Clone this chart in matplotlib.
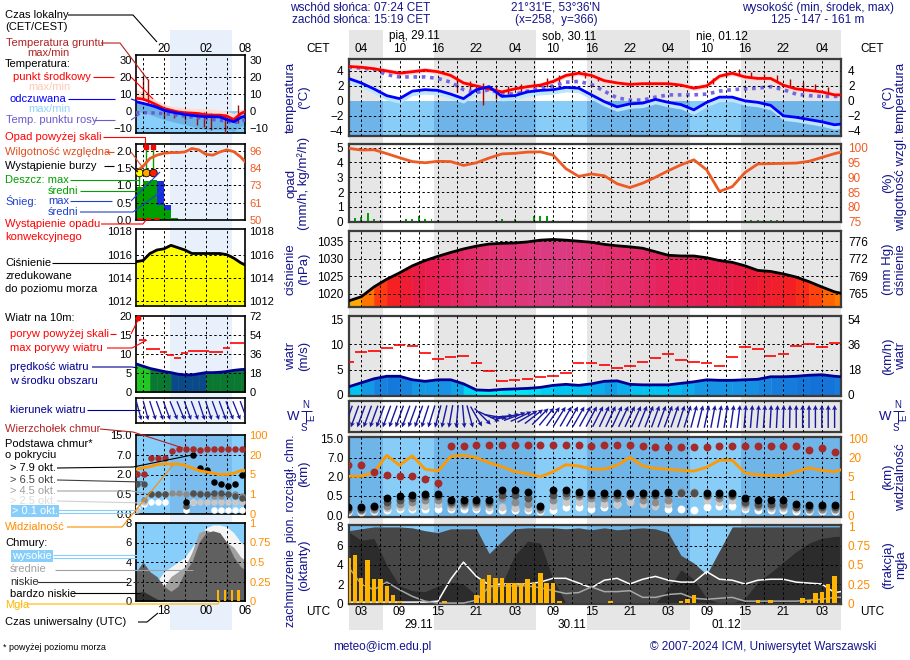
import numpy as np
import matplotlib
matplotlib.use("Agg")
import matplotlib.pyplot as plt
from matplotlib.colors import LinearSegmentedColormap, Normalize
from matplotlib.patches import Rectangle

plt.rcParams['font.family'] = ['Liberation Sans', 'DejaVu Sans']

W, H = 910, 660
NAVY = '#14148c'
nan = np.nan

##################################################
# main meteogram data, hours UTC counted from 29.11 00:00
hours = list(range(1, 78, 2)) + [78]
temp = [4.6, 4.5, 4.3, 4.0, 3.7, 3.9, 4.1, 3.9, 3.4, 2.4,
        2.0, 1.6, 1.2, 1.6, 1.9, 2.1, 2.6, 3.4, 3.7, 3.4,
        2.7, 2.4, 2.2, 2.3, 2.3, 2.3, 2.1, 1.7, 2.0, 3.3,
        3.7, 3.2, 3.0, 3.0, 2.1, 1.6, 1.4, 1.2, 0.8, 0.8]
feel = [3.0, 2.4, 1.6, 0.7, 0.3, 1.3, 1.5, 1.4, 0.9, 0.3,
        1.5, 1.9, 0.6, 0.7, 1.2, 1.4, 1.5, 1.8, 1.7, 0.8,
        -0.1, -0.8, -0.4, -0.3, 0.2, -0.2, -0.5, -1.2, -0.2, 0.5,
        0.5, 0.0, -0.2, -0.6, -2.0, -2.2, -2.5, -2.8, -3.2, -3.1]
dew = [4.5, 4.4, 4.2, 3.5, 3.2, 3.2, 3.2, 3.0, 2.5, 1.5,
       1.1, 1.5, 1.0, 0.9, 1.3, 1.7, 2.0, 2.5, 2.6, 2.2,
       1.3, 0.4, 0.1, 0.1, 0.5, 0.8, 0.8, 0.8, 0.9, 1.3,
       1.5, 1.6, 1.7, 1.9, 1.5, 0.9, 0.7, 0.6, 0.6, 0.6]
g_hours = [18, 20, 22, 24, 26, 28, 30, 32, 34, 36, 38, 40,
           58, 60, 62, 64, 66, 68, 70, 72, 74, 76]
g_min = [1.2, 0.8, -0.5, 0.3, 0.9, 1.2, 1.5, 1.8, 2.2, 2.8, 3.0, 2.6,
         2.3, 3.2, 3.4, 3.0, 2.9, 2.5, 1.9, 1.5, 1.3, 1.0]
g_max = [3.0, 2.6, 2.4, 2.1, 2.0, 2.3, 2.6, 3.0, 3.4, 3.8, 3.9, 3.2,
         3.0, 4.0, 4.2, 3.8, 3.6, 3.5, 2.9, 2.5, 2.2, 1.9]

rh = [99.8, 99.2, 99.3, 98.0, 96.6, 95.3, 94.9, 95.4, 95.3, 94.0,
      94.9, 96.5, 97.9, 98.1, 98.5, 98.6, 97.5, 92.9, 90.3, 91.1,
      90.5, 87.8, 86.5, 88.0, 90.0, 92.2, 94.2, 95.9, 92.5, 85.2,
      86.8, 91.6, 94.5, 94.6, 94.7, 94.8, 95.4, 96.7, 98.0, 98.5]
precip_hours = [1, 2, 3, 4, 5, 6, 9, 10, 11, 12, 13, 14, 15, 24, 25, 27,
                30, 31, 32, 33, 63, 64, 65, 66, 67, 68, 69, 70]
precip = [0.5, 0.25, 0.3, 0.6, 0.2, 0.05, 0.05, 0.15, 0.2, 0.35, 0.2, 0.2,
          0.1, 0.1, 0.2, 0.15, 0.4, 0.4, 0.35, 0.1, 0.08, 0.08, 0.1, 0.1,
          0.08, 0.08, 0.05, 0.05]

pressure = [1018.0, 1019.2, 1022.0, 1024.2, 1026.0, 1028.0, 1029.5, 1030.7, 1031.8, 1032.8,
            1033.6, 1034.2, 1034.4, 1034.5, 1034.8, 1035.3, 1035.5, 1035.3, 1035.0, 1034.7,
            1034.1, 1033.7, 1033.4, 1033.0, 1032.0, 1031.0, 1030.8, 1030.8, 1030.3, 1029.5,
            1029.0, 1028.0, 1026.7, 1026.4, 1025.7, 1024.8, 1023.5, 1022.0, 1020.6, 1020.2]
press_mmhg = ['765', '769', '772', '776']

wind = [1.6, 2.4, 3.2, 3.7, 3.7, 3.0, 2.7, 3.0, 3.0, 2.2,
        1.0, 0.9, 1.1, 1.2, 1.3, 1.5, 1.9, 2.1, 1.9, 2.2,
        2.7, 2.8, 2.1, 2.0, 2.0, 2.0, 2.3, 2.6, 3.0, 2.9,
        2.9, 3.0, 3.1, 3.6, 3.6, 3.7, 3.9, 4.0, 3.7, 3.6]
gust = [6.5, 8.4, 8.6, 9.2, 9.8, 9.6, 8.3, 7.2, 7.6, 7.7,
        6.4, 4.8, 2.7, 2.9, 3.2, 3.5, 3.7, 4.3, 6.3, 6.4,
        6.0, 5.3, 5.8, 6.5, 7.3, 8.0, 7.0, 6.5, 6.3, 5.8,
        7.5, 9.4, 9.0, 7.7, 8.0, 9.6, 10.0, 9.5, 10.2, nan]
# hourly direction the air moves to, degrees clockwise from north (hours 1..77)
dir_hours = list(range(1, 78))
wind_dir = [200, 200, 200, 200, 200, 200, 200, 200, 200, 200, 200, 200,
            198, 197, 195, 193, 190, 185, 175, 165, 150, 135, 115, 100,
            85, 78, 70, 65, 60, 52, 45, 40, 35, 32, 30, 30,
            30, 29, 28, 27, 25, 25, 25, 25, 25, 24, 22, 21,
            20, 20, 20, 19, 18, 17, 15, 14, 12, 11, 10, 9,
            8, 7, 5, 5, 5, 4, 3, 3, 2, 1, 0, 0,
            0, 0, 0, 0, 0]

vis = [5.4, 5.4, 8.6, 30, 14, 28, 11, 9.5, 25, 30,
       20, 16, 13, 9, 7.5, 5, 9, 14.5, 13.5, 11,
       11, 14, 21, 13.5, 11.6, 11, 10, 9.5, 12.5, 18,
       18, 8, 6.5, 6, 6, 9, 12, 10, 9, 10.5]
cloud_top = [5.2, 5.2, 3.2, 2.6, 2.3, 2.2, 1.8, 1.5, 12.0, 12.0,
             12.5, 12.5, 12.2, 12.5, 12.5, 12.5, 12.5, 12.5, 12.5, 12.0,
             12.5, 12.5, 12.5, 12.0, 11.5, 11.3, 11.3, 11.3, 11.6, 12.0,
             12.0, 12.0, 12.0, 12.0, 12.0, 12.0, 10.2, 11.0, 9.5, nan]
base_79 = [0.2, 0.2, 0.25, 0.45, 0.5, 0.55, 0.62, 0.62, 0.4, 0.4,
           0.4, 0.4, 1.0, 1.0, 0.8, 0.25, 0.95, 0.95, 0.8, 0.75,
           0.75, 0.75, 0.75, 0.75, 0.75, 0.8, nan, nan, 0.75, 0.75,
           0.75, 0.45, 0.4, 0.4, 0.4, 0.28, 0.26, 0.26, 0.26, nan]
base_65 = [0.15, 0.15, 0.2, 0.35, 0.4, 0.45, 0.5, 0.5, 0.35, 0.35,
           0.35, 0.35, 0.6, 0.6, 0.45, 0.2, 0.6, 0.7, 0.65, 0.6,
           0.55, 0.55, 0.6, 0.55, 0.6, 0.7, 0.7, 0.7, 0.6, 0.6,
           0.55, 0.35, 0.3, 0.3, 0.3, 0.22, 0.2, 0.2, 0.2, nan]
base_45 = [0.12, 0.12, 0.15, 0.25, 0.3, 0.35, 0.4, 0.4, 0.28, 0.3,
           0.3, 0.3, 0.45, 0.35, 0.3, 0.15, 0.4, 0.5, 0.5, 0.45,
           0.45, 0.45, 0.5, 0.4, 0.35, 0.4, 0.8, 0.8, 0.5, 0.45,
           0.5, 0.3, 0.25, 0.25, 0.25, 0.2, 0.17, 0.17, 0.17, nan]
base_25 = [0.1, 0.1, 0.12, 0.18, 0.2, 0.22, 0.25, 0.3, 0.2, 0.25,
           0.2, 0.2, 0.2, 0.18, 0.18, 0.12, 0.25, 0.35, 0.35, 0.3,
           0.3, 0.3, 0.35, 0.3, 0.25, 0.3, 0.65, 0.65, 0.4, 0.35,
           0.4, 0.22, 0.2, 0.18, 0.18, 0.15, 0.14, 0.14, 0.14, nan]
base_01 = [0.08, 0.08, 0.1, 0.12, 0.15, 0.15, 0.15, 0.15, 0.15, 0.15,
           0.15, 0.12, 0.12, 0.12, 0.12, 0.1, 0.12, 0.2, 0.2, 0.15,
           0.2, 0.3, 0.45, 0.5, 0.35, 0.15, 0.15, 0.12, 0.2, 0.25,
           0.25, 0.15, 0.12, 0.12, 0.12, 0.1, 0.1, 0.1, 0.1, nan]

cl_high = [0.1, 0.1, 0.1, 0.1, 0.1, 0.1, 0.1, 0.2, 2.5, 4.3,
           2.8, 1.9, 2.0, 2.0, 2.0, 2.2, 2.6, 2.6, 2.1, 1.6,
           2.4, 2.6, 2.0, 2.5, 2.8, 2.4, 2.2, 2.2, 3.3, 2.5,
           2.4, 2.0, 2.4, 2.5, 2.5, 2.2, 2.1, 2.0, 1.1, 1.2]
cl_mid = [3.8, 2.0, 1.4, 2.2, 1.4, 0.7, 0.2, 0.0, 0.0, 0.0,
          0.3, 1.7, 1.8, 1.8, 1.8, 1.6, 1.3, 1.0, 1.1, 1.7,
          1.2, 1.2, 1.3, 0.6, 0.6, 0.9, 1.0, 0.5, 0.4, 0.5,
          0.6, 0.2, 0.2, 0.2, 0.2, 0.2, 0.3, 0.4, 0.6, 0.6]
cl_low = [7.6, 7.8, 8, 8, 8, 7.9, 7.6, 7.4, 7.8, 7.8,
          7.8, 5.2, 6.5, 7.8, 7.9, 7.9, 7.9, 7.8, 7.9, 7.7,
          7.9, 7.7, 7.8, 7.9, 7.8, 7.4, 5.0, 4.2, 3.0, 5.5,
          8, 8, 8, 8, 8, 8, 8, 8, 8, 8]
cl_vlow = [7.5, 6.6, 6.8, 4.0, 1.8, 1.3, 1.2, 1.8, 2.2, 2.0,
           0.8, 0.0, 2.0, 5.0, 6.5, 6.3, 2.5, 0.0, 0, 0,
           0, 0, 0, 0, 0, 1.5, 3.5, 2.5, 0.5, 0,
           0, 0.5, 2.2, 3.2, 4.3, 5.4, 6.3, 6.8, 7.0, 7.0]
fog_hours = [1, 2, 3, 4, 5, 6, 7, 8, 9, 16, 21, 22, 23, 24, 25, 26, 27, 28,
             29, 30, 31, 32, 33, 34, 42, 53, 54, 55, 65, 67, 72, 73, 74, 75, 76, 77]
fog = [0.59, 0.63, 0.33, 0.57, 0.32, 0.31, 0.23, 0.10, 0.03, 0.03, 0.10, 0.31,
       0.37, 0.33, 0.33, 0.26, 0.26, 0.26, 0.32, 0.26, 0.40, 0.26, 0.26, 0.03,
       0.03, 0.03, 0.05, 0.10, 0.04, 0.04, 0.07, 0.04, 0.13, 0.15, 0.25, 0.35]

sunrise_utc, sunset_utc = 6.4, 14.32
day_names = ['pią, 29.11', 'sob, 30.11', 'nie, 01.12']
day_dates = ['29.11', '30.11', '01.12']

##################################################
# legend (sample) meteogram, local hours
mini_hours = list(range(16, 33))
mini_temp = [7.5, 7.0, 5.5, 3.5, 1.5, 0.5, -0.5, -1.0, -1.2, -1.5, -2.2, -2.4, -2.4, -3.0, -5.0, -1.5, 0.5]
mini_tmax = [13, 11, 9, 6, 4, 3, 2.5, 2, 1.5, 1.5, 1.2, 1, 0.5, 0, -1.5, 1, 1.5]
mini_feel = [5.5, 4.5, 3.5, 2.2, 0.5, -0.5, -1.3, -2.0, -2.5, -3.0, -3.3, -3.3, -3.5, -5.0, -6.3, -3.8, -2.5]
mini_fmin = [0, -1, -2, -3.5, -5, -6, -7, -8, -9, -10, -11, -11, -11, -11, -12, -9, -8]
mini_dew = [-1.0, -1.0, -1.0, -1.2, -1.5, -2, -2.5, -3, -3.5, -4, -4.5, -5, -5.5, -6.0, -7.0, -6, -5]
mini_g_hours = [17, 17.7, 20, 21.5, 23, 24.7, 25.8, 26.8, 28.7, 30.6]
mini_g_max = [21, 19, 0.6, 0, -0.5, -1.4, -0.5, -1.4, -2, 3.5]
mini_g_min = [6.5, 4.5, -4.3, -4, -5, -8.2, -9.2, -11.2, -13, -7.3]
mini_rh = [82.2, 85.7, 91, 93.2, 94.4, 94.9, 94.9, 95.3, 97.6, 96.7, 93.7, 93.2, 95.3, 96.7, 95.5, 91.9, 86.8]
mini_rain_hours = [16, 17, 18, 19, 20, 21]
mini_rain = [0.95, 1.12, 1.16, 0.43, 0.3, 0.05]
mini_snow = [0, 0, 0, 0.7, 0.13, 0]
mini_press = [1015.4, 1015.5, 1016.1, 1016.4, 1016.5, 1016.8, 1016.6, 1016.4, 1016.1,
              1016.1, 1016.1, 1016.1, 1016.1, 1016.0, 1015.7, 1015.3, 1015.0]
mini_wind = [7.4, 6.8, 6.2, 5.8, 5.4, 5.1, 4.7, 4.5, 4.5, 4.8, 5.1, 5.1, 5.2, 5.4, 5.7, 5.9, 6.0]
mini_gust_hours = list(range(17, 32))
mini_gust = [13.6, 11.3, 11.3, 10.6, 9.7, 9.0, 10.2, 10.8, 10.8, 10.7, 10.6, 10.6, 11.6, 12.9, 12.9]
mini_dir = [165, 165, 162, 160, 160, 158, 158, 160, 160, 162, 162, 160, 160, 158, 158, 160]
mini_top = [2.1, 2.1, 6.2, 6.2, 6.2, 8.5, 9.3, 9.3, 9.3, 9.0, 9.3, 9.3, 9.3, 9.3, 9.3, 9.3]
mini_b79 = [nan, nan, nan, nan, nan, nan, nan, 0.3, 7.0, 3.6, 3.2, 1.4, 1.3, 1.1, 1.3, 2.0]
mini_b65 = [1.3, 1.3, 0.5, 0.5, 0.5, nan, nan, 0.2, 0.6, 0.55, 0.5, 0.6, 0.6, 0.5, 0.45, 0.4]
mini_b45 = [nan, 0.35, 0.55, 0.5, 0.55, 0.6, 0.6, 0.5, 0.5, 0.6, 0.55, 0.45, 0.45, 0.55, 0.5, 0.45]
mini_b25 = [0.1, 0.3, nan, nan, 0.6, 0.6, 0.6, nan, 0.3, 0.3, 0.3, 0.3, 0.3, 0.3, 0.3, 0.3]
mini_b01 = [0.15, 0.25, 0.3, 0.3, 0.3, nan, nan, 0.1, 0.3, nan, nan, 0.1, 0.1, 0.1, 0.1, 0.1]
mini_vis = [9, 10, 11, 12.5, 13, 13, 13, 12, 10, 8, 7, 6, 5, 5, 6, 8, 8]
mini_high = [0, 0.5, 1.0, 2.0, 3.0, 3.5, 4.0, 4.5, 5.5, 6.5, 7.5, 7.8, 7.8, 7.6, 7.0, 6.0, 5.5]
mini_mid = [2.0, 2.5, 1.5, 1.0, 1.5, 2.5, 3.0, 3.5, 5.0, 7.0, 7.3, 7.0, 6.5, 6.0, 5.5, 4.5, 4.0]
mini_low = [3.0, 4.0, 3.0, 2.5, 1.5, 1.0, 1.5, 3.0, 4.0, 6.0, 7.0, 7.2, 7.0, 6.0, 4.5, 3.5, 3.0]
mini_vlow = [0.8, 1.0, 0.6, 0.2, 0, 0, 0, 0, 0, 0, 0, 0, 0, 0, 0, 0, 0]
mini_fog_hours = [27.7, 28.7, 29.7, 30.7]
mini_fog = [0.14, 0.14, 0.14, 0.14]

##################################################
fig = plt.figure(figsize=(W / 100, H / 100), dpi=100)


def px_axes(x0, y0, x1, y1):
    return fig.add_axes([x0 / W, 1 - y1 / H, (x1 - x0) / W, (y1 - y0) / H])


XL = (1.1, 78.0)
MX0, MX1 = 349, 841
ML = (16.0, 31.6)
LX0, LX1 = 136, 245


def hx(h):
    return MX0 + (h - XL[0]) / (XL[1] - XL[0]) * (MX1 - MX0)


def mx(h):
    return LX0 + (h - ML[0]) / (ML[1] - ML[0]) * (LX1 - LX0)


day_spans = [(sunrise_utc + 24 * d, sunset_utc + 24 * d) for d in range(3)]
night_spans = [(-1, day_spans[0][0])] + \
    [(day_spans[i][1], day_spans[i + 1][0]) for i in range(2)] + [(day_spans[2][1], 80)]

KM_T = [0, 0.5, 2, 7, 15]
VIS_T = [0, 1, 5, 20, 100]


def km_idx(v):
    return np.interp(np.array(v, float), KM_T, range(5))


def vis_idx(v):
    return np.interp(np.array(v, float), VIS_T, range(5))


DASH = (0, (2.5, 2.5))


def hgrid(ax, ys):
    for y in ys:
        ax.axhline(y, color='k', lw=0.7, ls=DASH, zorder=4)


def shade(ax, lo, hi, c_night, c_day):
    for a, b in night_spans:
        ax.fill_between([a, b], lo, hi, color=c_night, lw=0, zorder=0)
    for a, b in day_spans:
        ax.fill_between([a, b], lo, hi, color=c_day, lw=0, zorder=0)


def panel(y0, y1, ylim):
    ax = px_axes(MX0, y0, MX1, y1)
    ax.set_xlim(XL)
    ax.set_ylim(ylim)
    ax.patch.set_visible(False)
    ax.set_xticks([])
    for s in ax.spines.values():
        s.set_color('#3c3c3c')
        s.set_linewidth(1.6)
    ax.tick_params(axis='y', length=0, pad=4, labelsize=8.5)
    for g in range(3, 78, 3):
        ax.axvline(g, color='k', lw=0.7, ls=DASH, zorder=4)
    return ax


def mini(y0, y1, ylim):
    ax = px_axes(LX0, y0, LX1, y1)
    ax.set_xlim(ML)
    ax.set_ylim(ylim)
    ax.patch.set_visible(False)
    ax.set_xticks([])
    for s in ax.spines.values():
        s.set_color('k')
        s.set_linewidth(1.2)
    ax.tick_params(axis='y', length=0, pad=3, labelsize=8)
    for g in (17, 20, 23, 26, 29):
        ax.axvline(g, color='k', lw=0.7, ls=DASH, zorder=4)
    return ax


def right_axis(ax, ylim, ticks, labels=None, color='k', size=8.5, pad=5):
    r = ax.twinx()
    r.set_ylim(ylim)
    r.set_yticks(ticks)
    if labels is not None:
        r.set_yticklabels(labels)
    r.tick_params(axis='y', length=0, pad=pad, labelsize=size, colors=color)
    for s in r.spines.values():
        s.set_visible(False)
    return r


def color_fill(ax, x, y, base, cmap, norm):
    for i in range(len(x) - 1):
        c = cmap(norm((y[i] + y[i + 1]) / 2))
        ax.fill_between(x[i:i + 2], base, y[i:i + 2], color=c, ec=c, lw=0.4, zorder=1)


hrs = np.array(hours, float)

##################################################
# backgrounds
back = px_axes(0, 0, W, H)
back.set_xlim(0, W)
back.set_ylim(H, 0)
back.axis('off')
back.set_zorder(-10)
back.add_patch(Rectangle((170, 30), 62, 600, color='#e8f0fb', lw=0))

bg = px_axes(MX0, 30, MX1, 630)
bg.set_xlim(XL)
bg.axis('off')
bg.set_zorder(-5)
for a, b in night_spans:
    bg.axvspan(a, b, color='#e6e6e6', lw=0)

##################################################
# temperature
ax_t = panel(59, 136, (-4.7, 5.6))
shade(ax_t, -4.7, 0, '#6eb4e8', '#88cdf8')
ax_t.fill_between(hrs, np.array(temp) - 0.3, np.array(temp) + 0.35, color='#ffd6cf', lw=0, zorder=2)
ax_t.fill_between(hrs, np.array(feel) - 0.6, np.array(feel) + 0.15, color='#bde5fb', lw=0, zorder=2)
ax_t.vlines(g_hours, g_min, g_max, color='#b00000', lw=1, zorder=3)
ax_t.plot(hrs, dew, color='#7466e6', lw=2.6, ls=(0, (1, 1.3)), zorder=3)
ax_t.plot(hrs, temp, color='#ff0000', lw=2, zorder=5)
ax_t.plot(hrs, feel, color='#0000ff', lw=2, zorder=5)
ax_t.set_yticks([-4, -2, 0, 2, 4])
hgrid(ax_t, [-4, -2, 2, 4])
right_axis(ax_t, (-4.7, 5.6), [-4, -2, 0, 2, 4])

# precipitation / humidity
ax_p = panel(144, 222, (-0.03, 5.25))
ax_p.bar(precip_hours, precip, width=0.3, color='#00a000', zorder=2)
ax_p.set_yticks(range(6))
hgrid(ax_p, [1, 2, 3, 4, 5])
r = right_axis(ax_p, (75 - 0.15, 75 + 26.25), [75, 80, 85, 90, 95, 100], color='#f05a22')
r.plot(hrs, rh, color='#ee5a24', lw=2, zorder=5)

# pressure
pcmap = LinearSegmentedColormap.from_list('p', [
    (0.0, '#ffd000'), (0.105, '#ffa000'), (0.21, '#ff6a00'), (0.316, '#ff3c10'),
    (0.42, '#f52020'), (0.58, '#ea1a40'), (0.737, '#e8205a'), (0.895, '#e23070'),
    (1.0, '#d8408a')])
ax_pr = panel(231, 307, (1016.3, 1037.9))
color_fill(ax_pr, hrs, pressure, 1016.3, pcmap, Normalize(1017, 1036))
ax_pr.plot(hrs, pressure, color='k', lw=2, zorder=5)
ax_pr.set_yticks([1020, 1025, 1030, 1035])
hgrid(ax_pr, [1020, 1025, 1030, 1035])
right_axis(ax_pr, (1016.3, 1037.9), [1020, 1025, 1030, 1035], press_mmhg)

# wind
wcmap = LinearSegmentedColormap.from_list('w', [
    (0.0, '#00ffff'), (0.2, '#00f0fa'), (0.4, '#00c4f2'), (0.6, '#1890e4'),
    (0.8, '#1470d8'), (1.0, '#1060d0')])
ax_w = panel(316, 396, (-0.2, 15.6))
color_fill(ax_w, hrs, wind, 0, wcmap, Normalize(0, 5))
ax_w.plot(hrs, wind, color='#000090', lw=2, zorder=5)
ax_w.hlines(gust, hrs - 0.9, hrs + 0.9, color='#ff0000', lw=1.2, zorder=5)
ax_w.set_yticks([0, 5, 10, 15])
hgrid(ax_w, [5, 10])
right_axis(ax_w, (-0.72, 56.16), [0, 18, 36, 54])

# wind direction
ax_d = panel(401, 432, (0, 1))
ax_d.set_yticks([])
rad = np.deg2rad(wind_dir)
ax_d.quiver(dir_hours, np.full(len(rad), 0.5), np.sin(rad), np.cos(rad),
            angles='uv', pivot='middle', scale_units='inches', scale=1 / 0.23,
            units='inches', width=0.014, headwidth=3.6, headlength=3.6,
            headaxislength=3.1, color='#1818a0', zorder=5)

# cloud base / top, visibility
CLIM = (-0.1, 4.08)
ax_c = panel(437, 517, CLIM)
shade(ax_c, CLIM[0], CLIM[1], '#70b5e8', '#88cdf8')
for vals, col in [(base_01, 'white'), (base_25, '#c8c8c8'), (base_45, '#8c8c8c'),
                  (base_65, '#505050'), (base_79, 'black')]:
    ax_c.scatter(hrs, km_idx(vals), s=32, color=col, lw=0, zorder=5)
ax_c.plot(hrs, vis_idx(vis), color='#ff9900', lw=2, zorder=6)
ax_c.scatter(hrs, km_idx(cloud_top), s=32, color='#a52a2a', lw=0, zorder=7)
ax_c.set_yticks(range(5))
ax_c.set_yticklabels(['0.0', '0.5', '2.0', '7.0', '15.0'])
hgrid(ax_c, [1, 2, 3])
right_axis(ax_c, CLIM, range(5), ['0', '1', '5', '20', '100'], color='#ff8c00')

# cloud cover, fog
OLIM = (-0.1, 8.2)
ax_cc = panel(525, 604, OLIM)
shade(ax_cc, OLIM[0], OLIM[1], '#70b5e8', '#88cdf8')
ax_cc.fill_between(hrs, -0.1, cl_high, color='white', lw=0, zorder=1)
ax_cc.fill_between(hrs, -0.1, cl_mid, color='#a8a8a8', lw=0, zorder=1.1)
ax_cc.fill_between(hrs, -0.1, cl_low, color='#474747', lw=0, zorder=1.2)
ax_cc.fill_between(hrs, -0.1, cl_vlow, color='#2c2c2c', lw=0, zorder=1.3)
ax_cc.plot(hrs, cl_high, color='white', lw=1.1, zorder=3)
ax_cc.plot(hrs, cl_mid, color='#a8a8a8', lw=1.1, zorder=3)
ax_cc.set_yticks([0, 2, 4, 6, 8])
hgrid(ax_cc, [2, 4, 6])
r = right_axis(ax_cc, (OLIM[0] / 8, OLIM[1] / 8), [0, 0.25, 0.5, 0.75, 1],
               ['0', '0.25', '0.5', '0.75', '1'], color='#ff8c00')
r.bar(fog_hours, fog, width=0.7, color='#ffb400', zorder=3)

##################################################
# legend sample panels
mh = np.array(mini_hours, float)
ax_mt = mini(55, 133, (-12.9, 32.9))
ax_mt.fill_between(ML, -12.9, 0, color='#87cefa', lw=0, zorder=0)
ax_mt.fill_between(mh, mini_temp, mini_tmax, color='#ffdcd2', lw=0, zorder=1)
ax_mt.fill_between(mh, mini_fmin, mini_feel, color='#6cb2e4', lw=0, zorder=1)
ax_mt.vlines(mini_g_hours, mini_g_min, mini_g_max, color='#a01010', lw=1, zorder=3)
ax_mt.plot(mh, mini_dew, color='#6a5acd', lw=2.4, ls=(0, (1, 1.3)), zorder=3)
ax_mt.plot(mh, mini_temp, color='#ff0000', lw=2, zorder=5)
ax_mt.plot(mh, mini_feel, color='#0000ff', lw=2, zorder=5)
ax_mt.set_yticks([-10, 0, 10, 20, 30])
hgrid(ax_mt, [-10, 10, 20])
right_axis(ax_mt, (-12.9, 32.9), [-10, 0, 10, 20, 30], size=8, pad=3)

ax_mh = mini(144, 220, (0, 2.2))
ax_mh.bar(mini_rain_hours, mini_rain, width=1, align='edge', color='#00a000', zorder=2)
ax_mh.bar(mini_rain_hours, mini_snow, width=1, align='edge', bottom=mini_rain,
          color='#1a2ee0', zorder=2)
ax_mh.vlines([17.5, 18.5], 1.36, 2.1, color='#00a000', lw=1, zorder=5)
ax_mh.vlines([16.5], 0.95, 1.36, color='#00a000', lw=1, zorder=5)
ax_mh.scatter([17.5, 18.5], [2.12, 2.12], marker='s', s=10, color='#ff0000', zorder=6)
ax_mh.scatter([16.5, 17.5, 18.5], [1.36] * 3, c=['#ffff00', '#ffa500', '#ff2000'],
              s=30, edgecolors='k', linewidths=0.6, zorder=6)
ax_mh.hlines(0.03, 16.1, 19.4, color='#ff0000', lw=2, ls=(0, (2, 1)), zorder=6)
ax_mh.plot(mh, (np.array(mini_rh) - 50) / 23, color='#ee5a24', lw=2, zorder=5)
ax_mh.set_yticks([0, 0.5, 1, 1.5, 2])
ax_mh.set_yticklabels(['0.0', '0.5', '1.0', '1.5', '2.0'])
hgrid(ax_mh, [0.5, 1, 1.5, 2])
right_axis(ax_mh, (0, 2.2), [0, 0.5, 1, 1.5, 2], ['50', '61', '73', '84', '96'],
           color='#f05a22', size=8, pad=3)

ax_mp = mini(229, 306, (1011.6, 1018.2))
ax_mp.fill_between(mh, 1011.6, mini_press, color='#ffff00', lw=0, zorder=1)
ax_mp.plot(mh, mini_press, color='k', lw=2, zorder=5)
ax_mp.set_yticks([1012, 1014, 1016, 1018])
hgrid(ax_mp, [1012, 1014, 1016])
right_axis(ax_mp, (1011.6, 1018.2), [1012, 1014, 1016, 1018], size=8, pad=3)

ax_mw = mini(316, 392, (0, 20))
for i in range(len(mh) - 1):
    s = (mini_wind[i] + mini_wind[i + 1]) / 2
    c = '#22c822' if s >= 6.5 else ('#0a7830' if s >= 5 else '#0a4a88')
    ax_mw.fill_between(mh[i:i + 2], 0, mini_wind[i:i + 2], color=c, ec=c, lw=0.4, zorder=1)
ax_mw.plot(mh, mini_wind, color='#000090', lw=2, zorder=5)
gh = np.array(mini_gust_hours, float)
ax_mw.hlines(mini_gust, gh - 0.5, gh + 0.5, color='#ff0000', lw=1.2, zorder=5)
ax_mw.scatter([16.3], [19.6], s=10, color='#ff0000', zorder=6, clip_on=False)
ax_mw.set_yticks([0, 5, 10, 15, 20])
hgrid(ax_mw, [5, 10, 15])
right_axis(ax_mw, (0, 20), [0, 5, 10, 15, 20], ['0', '18', '36', '54', '72'], size=8, pad=3)

ax_md = mini(398, 423, (0, 1))
ax_md.set_yticks([])
mrad = np.deg2rad(mini_dir)
ax_md.quiver(mh[:-1] + 0.4, np.full(len(mrad), 0.5), np.sin(mrad), np.cos(mrad),
             angles='uv', pivot='middle', scale_units='inches', scale=1 / 0.2,
             units='inches', width=0.013, headwidth=3.6, headlength=3.6,
             headaxislength=3.1, color='#1818a0', zorder=5)

ax_mc = mini(435, 514, (0, 4))
ax_mc.fill_between(ML, 0, 4, color='#87cefa', lw=0, zorder=0)
ax_mc.fill_between([20.86, 29.7], 0, 4, color='#7abcee', lw=0, zorder=0)
mch = mh[:-1] + 0.2
for vals, col in [(mini_b01, 'white'), (mini_b25, '#c8c8c8'), (mini_b45, '#8c8c8c'),
                  (mini_b65, '#505050'), (mini_b79, 'black')]:
    ax_mc.scatter(mch, km_idx(vals), s=22, color=col, lw=0, zorder=5)
ax_mc.plot(mh, vis_idx(mini_vis), color='#ff9900', lw=2, zorder=6)
ax_mc.scatter(mch, km_idx(mini_top), s=22, color='#a52a2a', lw=0, zorder=7)
ax_mc.set_yticks(range(5))
ax_mc.set_yticklabels(['0.0', '0.5', '2.0', '7.0', '15.0'])
hgrid(ax_mc, [1, 2, 3])
right_axis(ax_mc, (0, 4), range(5), ['0', '1', '5', '20', '100'], color='#ff8c00', size=8, pad=3)

ax_mcc = mini(523, 601, (0, 8))
ax_mcc.fill_between(ML, 0, 8, color='#87cefa', lw=0, zorder=0)
ax_mcc.fill_between(mh, 0, mini_high, color='#f4f4f4', lw=0, zorder=1)
ax_mcc.fill_between(mh, 0, mini_mid, color='#a0a0a0', lw=0, zorder=1.1)
ax_mcc.fill_between(mh, 0, mini_low, color='#606060', lw=0, zorder=1.2)
ax_mcc.fill_between(mh, 0, mini_vlow, color='#303030', lw=0, zorder=1.3)
ax_mcc.set_yticks([0, 2, 4, 6, 8])
hgrid(ax_mcc, [2, 4, 6])
r = right_axis(ax_mcc, (0, 1), [0, 0.25, 0.5, 0.75, 1], ['0', '0.25', '0.5', '0.75', '1'],
               color='#ff8c00', size=8, pad=3)
r.bar(mini_fog_hours, mini_fog, width=0.35, color='#ffb400', zorder=3)

##################################################
# overlay: texts and leader lines in pixel coordinates
ov = px_axes(0, 0, W, H)
ov.set_xlim(0, W)
ov.set_ylim(H, 0)
ov.axis('off')
ov.set_zorder(10)
ov.patch.set_visible(False)


def t(x, y, s, c='k', fs=8, ha='left', **kw):
    ov.text(x, y, s, color=c, fontsize=fs, ha=ha, va='center', **kw)


def ln(pts, c, lw=0.8):
    xs, ys = zip(*pts)
    ov.plot(xs, ys, color=c, lw=lw, solid_capstyle='butt')


# header
t(290, 8, 'wschód słońca: 07:24 CET', NAVY, 8.5)
t(292, 20, 'zachód słońca: 15:19 CET', NAVY, 8.5)
t(556, 8, "21°31'E, 53°36'N", NAVY, 8.5, 'center')
t(556, 20, '(x=258,  y=366)', NAVY, 8.5, 'center')
t(818, 8, 'wysokość (min, środek, max)', NAVY, 8.5, 'center')
t(818, 20, '125 - 147 - 161 m', NAVY, 8.5, 'center')

for k, (a, b) in enumerate(day_spans):
    t(hx(a) + 6, 36.5, day_names[k], 'k', 8.5)
    t(hx(a - sunrise_utc + 12), 625, day_dates[k], 'k', 8.5, 'center')
for g in range(3, 76, 6):
    t(hx(g), 49, '%02d' % ((g + 1) % 24), 'k', 8.5, 'center')
    t(hx(g), 612, '%02d' % (g % 24), 'k', 8.5, 'center')
t(318, 49, 'CET', 'k', 8.5, 'center')
t(872, 49, 'CET', 'k', 8.5, 'center')
t(318, 612, 'UTC', 'k', 8.5, 'center')
t(872, 612, 'UTC', 'k', 8.5, 'center')

# side labels
left_labels = [('temperatura', '(°C)', 97), ('opad', '(mm/h, kg/m²/h)', 183),
               ('ciśnienie', '(hPa)', 269), ('wiatr', '(m/s)', 356)]
left_units = [('(km)', 474), ('(oktanty)', 565)]
right_labels = [('(°C)', 'temperatura', 97), ('(%)', 'wilgotność wzgl.', 183),
                ('(mm Hg)', 'ciśnienie', 269), ('(km/h)', 'wiatr', 356),
                ('(km)', 'widzialność', 477), ('(frakcja)', 'mgła', 565)]
for outer, inner, y in left_labels:
    t(291, y, outer, NAVY, 9.5, 'center', rotation=90)
    t(304, y, inner, NAVY, 9.5, 'center', rotation=90)
t(291, 531, 'zachmurzenie  pion. rozciągł. chm.', NAVY, 9, 'center', rotation=90)
for inner, y in left_units:
    t(304, y, inner, NAVY, 9.5, 'center', rotation=90)
for inner, outer, y in right_labels:
    t(888, y, inner, NAVY, 9.5, 'center', rotation=90)
    t(901, y, outer, NAVY, 9.5, 'center', rotation=90)
# compass glyph beside the wind direction panel
for cx in (298, 890):
    t(cx - 5, 417, 'W', NAVY, 9.5, 'center')
    t(cx + 8, 405, 'N', NAVY, 7, 'center')
    t(cx + 6, 428, 'S', NAVY, 7, 'center')
    t(cx + 13, 418, 'E', NAVY, 7, 'center', rotation=90)
    ln([(cx + 3, 411), (cx + 14, 411)], NAVY, 0.7)
    ln([(cx + 8, 411), (cx + 8, 423)], NAVY, 0.7)

# legend column
t(mx(20), 49, '20', 'k', 8.5, 'center')
t(mx(26), 49, '02', 'k', 8.5, 'center')
t(mx(31.6), 49, '08', 'k', 8.5, 'center')
t(mx(20), 611, '18', 'k', 8.5, 'center')
t(mx(26), 611, '00', 'k', 8.5, 'center')
t(mx(31.6), 611, '06', 'k', 8.5, 'center')

lb = dict(facecolor='#87cefa', edgecolor='none', pad=0.6)
legend_texts = [
    (5, 15, 'Czas lokalny', 'k'), (5, 27, '(CET/CEST)', 'k'),
    (6, 43, 'Temperatura gruntu', '#b22222'), (27, 53, 'max/min', '#b22222'),
    (5, 64, 'Temperatura:', 'k'), (13, 77, 'punkt środkowy', '#ff0000'),
    (28, 87, 'max/min', '#ffc8b4'), (10, 99, 'odczuwana', '#0000ff'),
    (28, 109, 'max/min', '#8fd3f5'), (6, 120, 'Temp. punktu rosy', '#6a5acd'),
    (5, 137, 'Opad powyżej skali', '#ff0000'), (5, 152, 'Wilgotność względna', '#e05020'),
    (5, 166, 'Wystąpienie burzy', 'k'), (5, 180, 'Deszcz: max', '#00a000'),
    (48, 191, 'średni', '#00a000'), (5, 201, 'Śnieg:', '#2040d0'),
    (48, 201, 'max', '#2040d0'), (48, 212, 'średni', '#2040d0'),
    (5, 224, 'Wystąpienie opadu', '#ff0000'), (5, 237, 'konwekcyjnego', '#ff0000'),
    (5, 263, 'Ciśnienie', 'k'), (5, 276, 'zredukowane', 'k'),
    (5, 289, 'do poziomu morza', 'k'), (5, 318, 'Wiatr na 10m:', 'k'),
    (10, 334, 'poryw powyżej skali', '#ff0000'), (10, 348, 'max porywy wiatru', '#ff0000'),
    (10, 367, 'prędkość wiatru', '#000090'), (10, 381, 'w środku obszaru', '#000090'),
    (10, 410, 'kierunek wiatru', '#000090'), (5, 429, 'Wierzchołek chmur', '#b22222'),
    (5, 444, 'Podstawa chmur*', 'k'), (5, 455, 'o pokryciu', 'k'),
    (10, 468, '> 7.9 okt.', 'k'), (10, 480, '> 6.5 okt.', '#404040'),
    (10, 491, '> 4.5 okt.', '#a0a0a0'), (10, 501, '> 2.5 okt.', '#dcdcdc'),
    (5, 527, 'Widzialność', '#ff8c00'), (5, 543, 'Chmury:', 'k'),
    (10, 569, 'średnie', '#a0a0a0'), (10, 582, 'niskie', '#303030'),
    (10, 594, 'bardzo niskie', 'k'), (5, 605, 'Mgła', '#ffb400'),
    (5, 622, 'Czas uniwersalny (UTC)', 'k'),
]
for x, y, s, c in legend_texts:
    t(x, y, s, c)
t(12, 511, '> 0.1 okt.', 'white', bbox=lb)
t(12, 556, 'wysokie', 'white', bbox=lb)
t(3, 648, '* powyżej poziomu morza', 'k', 6.5)

leaders = [
    ('k', [(68, 15), (133, 15), (157, 42)]),
    ('#b22222', [(101, 43), (120, 43), (148, 80)]),
    ('#ff0000', [(93, 77), (114, 77)]), ('#ff0000', [(131, 77), (153, 99)]),
    ('#0000ff', [(68, 99), (115, 99)]), ('#0000ff', [(131, 99), (137, 101)]),
    ('#6a5acd', [(94, 120), (115, 120)]), ('#6a5acd', [(131, 120), (140, 114)]),
    ('#ff0000', [(103, 137), (145, 137), (145, 146)]),
    ('#e05020', [(106, 152), (114, 152)]), ('#e05020', [(131, 152), (143, 168)]),
    ('k', [(104, 166), (114, 166)]), ('k', [(131, 166), (138, 172)]),
    ('#00a000', [(70, 180), (139, 180)]),
    ('#00a000', [(80, 191), (143, 191)]),
    ('#2040d0', [(70, 201), (112, 201)]), ('#2040d0', [(131, 201), (160, 172)]),
    ('#2040d0', [(80, 212), (133, 212), (163, 190)]),
    ('#ff0000', [(101, 224), (143, 224), (146, 220)]),
    ('k', [(52, 263), (136, 263)]),
    ('#ff0000', [(110, 334), (116, 334)]), ('#ff0000', [(131, 334), (139, 318)]),
    ('#ff0000', [(107, 348), (132, 348), (147, 340)]),
    ('#000090', [(92, 367), (132, 367), (138, 368)]),
    ('#000090', [(87, 410), (140, 410)]),
    ('#b22222', [(100, 429), (133, 432), (183, 448)]),
    ('k', [(57, 468), (133, 467), (192, 455)]),
    ('#404040', [(57, 480), (143, 482)]),
    ('#a0a0a0', [(57, 491), (132, 491), (148, 494)]),
    ('#d0d0d0', [(57, 501), (145, 503)]),
    ('#87cefa', [(57, 510), (136, 510)]), ('#87cefa', [(57, 513), (136, 513)]),
    ('#ff8c00', [(67, 527), (122, 527), (173, 465)]),
    ('#87cefa', [(53, 555), (185, 555)]), ('#87cefa', [(53, 558), (185, 558)]),
    ('#a0a0a0', [(55, 570), (193, 570)]),
    ('#303030', [(37, 582), (128, 582)]), ('#303030', [(133, 582), (138, 582)]),
    ('k', [(72, 593), (140, 593)]),
    ('#ffb400', [(27, 604), (218, 604), (220, 600)]),
    ('k', [(138, 622), (147, 622), (158, 613)]),
]
for c, pts in leaders:
    ln(pts, c)

# footer
t(333, 647, 'meteo@icm.edu.pl', NAVY, 8.5)
t(877, 647, '© 2007-2024 ICM, Uniwersytet Warszawski', NAVY, 8.5, 'right')

fig.savefig('out.png', dpi=100)
